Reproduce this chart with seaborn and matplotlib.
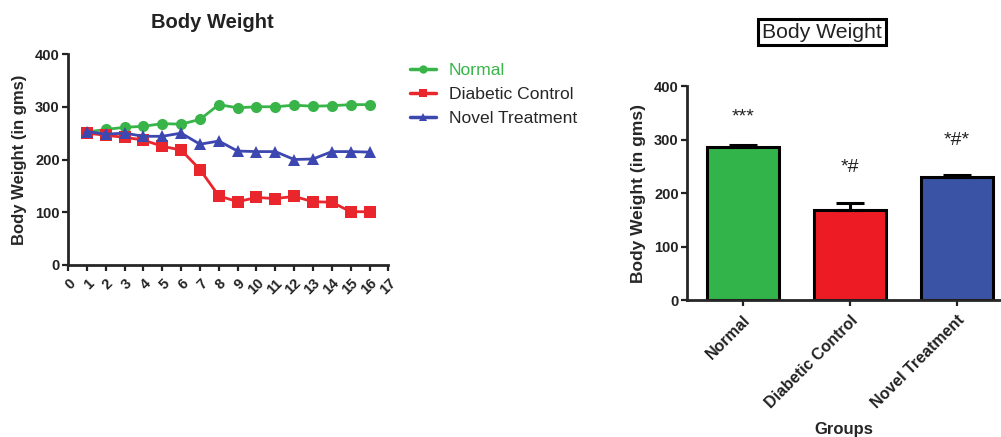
import numpy as np
import pandas as pd
import matplotlib
matplotlib.use("Agg")
import matplotlib.pyplot as plt
import seaborn as sns
from matplotlib.lines import Line2D

sns.set_theme(style="ticks")
plt.rcParams["font.family"] = ["Liberation Sans", "DejaVu Sans"]

# Weekly body weight (g) per group
days = list(range(1, 17))
normal = [252, 257, 261, 263, 268, 267, 276, 304, 298, 300, 300, 303, 301, 302, 304, 304]
diabetic = [250, 246, 242, 237, 225, 218, 181, 131, 120, 128, 126, 130, 120, 119, 101, 101]
novel = [253, 248, 250, 244, 244, 250, 229, 235, 216, 215, 215, 200, 201, 215, 215, 214]

# Mean body weight per group with SEM
groups = ["Normal", "Diabetic Control", "Novel Treatment"]
means = [286, 168, 229]
sems = [4, 14, 5]
marks = ["***", "*#", "*#*"]

line_colors = {"Normal": "#38B449", "Diabetic Control": "#E8262B", "Novel Treatment": "#3D47B0"}
bar_colors = ["#33B44A", "#ED1C24", "#3A53A4"]
markers = {"Normal": "o", "Diabetic Control": "s", "Novel Treatment": "^"}

df = pd.DataFrame({
    "Day": days * 3,
    "Weight": normal + diabetic + novel,
    "Group": ["Normal"] * 16 + ["Diabetic Control"] * 16 + ["Novel Treatment"] * 16,
})

fig = plt.figure(figsize=(10.01, 4.37), dpi=100)

# ---- Time course ----
ax1 = fig.add_axes([0.068, 0.3936, 0.320, 0.4828])
sns.lineplot(data=df, x="Day", y="Weight", hue="Group", style="Group",
             markers=markers, dashes=False, palette=line_colors,
             markersize=8, markeredgewidth=0, linewidth=2, ax=ax1, legend=False)
ax1.set_xlim(0, 17)
ax1.set_ylim(0, 400)
ax1.set_xticks(range(0, 18))
ax1.set_yticks(range(0, 401, 100))
ax1.set_xticklabels([str(i) for i in range(0, 18)], rotation=45, ha="right",
                    rotation_mode="anchor", fontweight="bold", fontsize=10.5)
for t in ax1.get_yticklabels():
    t.set_fontweight("bold")
    t.set_fontsize(10.5)
ax1.set_xlabel("")
ax1.set_ylabel("Body Weight (in gms)", fontweight="bold", fontsize=12, labelpad=6)
sns.despine(ax=ax1)
for s in ("left", "bottom"):
    ax1.spines[s].set_linewidth(2)
ax1.tick_params(width=1.6, length=4, colors="#222222", pad=2)
ax1.tick_params(axis="x", pad=4)
fig.text(0.212, 1 - 22 / 437, "Body Weight", ha="center", va="center",
         fontweight="bold", fontsize=14.5, color="#222222")

handles = [Line2D([], [], color=line_colors[g], marker=markers[g], markersize=6,
                  markeredgewidth=0, linewidth=2.5) for g in groups]
leg = fig.legend(handles, groups, loc="upper left", bbox_to_anchor=(0.394, 0.893),
                 frameon=False, fontsize=12.6, handlelength=1.5, labelspacing=0.52,
                 handletextpad=0.7)
leg.get_texts()[0].set_color(line_colors["Normal"])

# ---- Group means ----
ax2 = fig.add_axes([0.6863, 0.3135, 0.3137, 0.4897])
bdf = pd.DataFrame({"Group": groups, "Weight": means})
sns.barplot(data=bdf, x="Group", y="Weight", hue="Group", palette=bar_colors,
            saturation=1, width=0.67, edgecolor="black", linewidth=2.2,
            legend=False, ax=ax2, errorbar=None)
ax2.errorbar(range(len(groups)), means, yerr=[[0] * 3, sems], fmt="none",
             ecolor="black", elinewidth=2.2, capsize=10, capthick=2.2)
for i, (m, s, txt) in enumerate(zip(means, sems, marks)):
    ax2.text(i, m + s + [53, 65, 64][i], txt, ha="center", va="center",
             fontsize=14, color="#222222")
ax2.set_xlim(-0.52, 2.41)
ax2.set_ylim(0, 400)
ax2.set_yticks(range(0, 401, 100))
ax2.set_xticks(range(3))
ax2.set_xticklabels(groups, rotation=45, ha="right", rotation_mode="anchor",
                    fontweight="bold", fontsize=11.5)
for t in ax2.get_yticklabels():
    t.set_fontweight("bold")
    t.set_fontsize(10.5)
ax2.set_xlabel("Groups", fontweight="bold", fontsize=12, labelpad=8)
ax2.set_ylabel("Body Weight (in gms)", fontweight="bold", fontsize=12.5, labelpad=6)
sns.despine(ax=ax2)
for s in ("left", "bottom"):
    ax2.spines[s].set_linewidth(2)
ax2.tick_params(width=1.6, length=4, colors="#222222", pad=2)
ax2.tick_params(axis="x", pad=5)
fig.text(822 / 1001, 1 - 32 / 437, "Body Weight", ha="center", va="center",
         fontsize=15.3, color="#222222",
         bbox=dict(boxstyle="square,pad=0.18", facecolor="white",
                   edgecolor="black", linewidth=2.2))

fig.savefig("out.png", dpi=100)
